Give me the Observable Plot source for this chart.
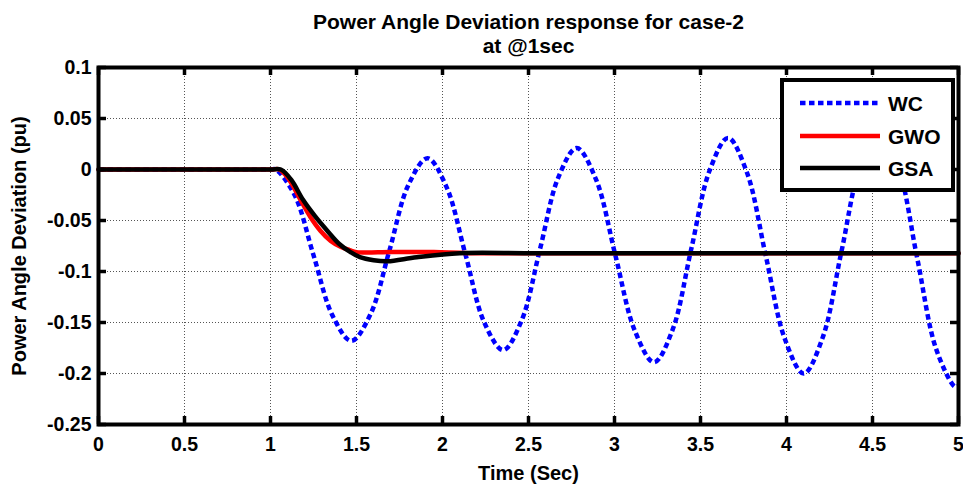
<!DOCTYPE html>
<html>
<head>
<meta charset="utf-8">
<script src="https://cdn.jsdelivr.net/npm/d3@7"></script>
<script src="https://cdn.jsdelivr.net/npm/@observablehq/plot@0.6"></script>
<style>
  html, body { margin: 0; padding: 0; background: #fff; }
  #chart { width: 963px; height: 489px; }
</style>
</head>
<body>
<div id="chart"></div>
<script>
// ---- data ----
const titleLines = ["Power Angle Deviation response for case-2", "at @1sec"];
const xLabel = "Time (Sec)";
const yLabel = "Power Angle Deviation (pu)";
const seriesNames = ["WC", "GWO", "GSA"];
const seriesColors = ["#0000ff", "#ff0000", "#000000"];

const xTicks = [0, 0.5, 1, 1.5, 2, 2.5, 3, 3.5, 4, 4.5, 5];
const yTicks = [0.1, 0.05, 0, -0.05, -0.1, -0.15, -0.2, -0.25];

const wcT = [0, 0.5, 1.0, 1.03, 1.14, 1.25, 1.36, 1.47, 1.581, 1.692, 1.802, 1.913, 2.023, 2.133, 2.243, 2.353, 2.46, 2.567, 2.673, 2.78, 2.893, 3.005, 3.118, 3.23, 3.338, 3.445, 3.553, 3.66, 3.77, 3.88, 3.99, 4.10, 4.21, 4.32, 4.43, 4.54, 4.65, 4.76, 4.87, 4.98, 5.0];
const wcV = [0, 0, 0, 0, -0.025, -0.084, -0.143, -0.168, -0.142, -0.079, -0.015, 0.011, -0.017, -0.083, -0.150, -0.177, -0.148, -0.078, -0.008, 0.021, -0.010, -0.084, -0.158, -0.189, -0.157, -0.079, -0.001, 0.031, -0.003, -0.085, -0.166, -0.200, -0.165, -0.080, 0.005, 0.040, 0.003, -0.087, -0.176, -0.213, -0.212];

const gwoT = [0, 0.5, 1.0, 1.05, 1.1, 1.175, 1.23, 1.29, 1.35, 1.41, 1.46, 1.5, 1.7, 1.95, 2.15, 3.0, 4.0, 5.0];
const gwoV = [0, 0, 0, 0, -0.008, -0.030, -0.046, -0.060, -0.070, -0.076, -0.079, -0.081, -0.081, -0.081, -0.082, -0.082, -0.082, -0.082];

const gsaT = [0, 0.5, 1.0, 1.06, 1.12, 1.19, 1.26, 1.33, 1.40, 1.465, 1.52, 1.60, 1.68, 1.85, 2.1, 2.5, 3.0, 4.0, 5.0];
const gsaV = [0, 0, 0, 0, -0.010, -0.030, -0.046, -0.060, -0.073, -0.081, -0.086, -0.089, -0.090, -0.086, -0.082, -0.082, -0.082, -0.082, -0.082];

const toRows = (T, V) => T.map((t, i) => ({t, v: V[i]}));
const wc = toRows(wcT, wcV);
const gwo = toRows(gwoT, gwoV);
const gsa = toRows(gsaT, gsaV);

// ---- layout ----
const W = 963, H = 489;
const mL = 98, mR = 5, mT = 67, mB = 65;
const plotW = W - mL - mR, plotH = H - mT - mB;
const tickLen = 8;
const font = "'Liberation Sans', Arial, Helvetica, sans-serif";

const svg = Plot.plot({
  width: W, height: H,
  marginLeft: mL, marginRight: mR, marginTop: mT, marginBottom: mB,
  style: {background: "#fff", fontFamily: font, color: "#000"},
  x: {domain: [0, 5], ticks: xTicks},
  y: {domain: [-0.25, 0.1], ticks: yTicks},
  marks: [
    Plot.gridX(xTicks, {stroke: "#555", strokeOpacity: 1, strokeWidth: 1, strokeDasharray: "1,2"}),
    Plot.gridY(yTicks, {stroke: "#555", strokeOpacity: 1, strokeWidth: 1, strokeDasharray: "1,2"}),
    Plot.line(wc, {x: "t", y: "v", stroke: seriesColors[0], strokeWidth: 4.5, strokeDasharray: "5.5,3.5", strokeLinecap: "butt", strokeLinejoin: "miter", curve: "catmull-rom"}),
    Plot.line(gwo, {x: "t", y: "v", stroke: seriesColors[1], strokeWidth: 4.5, curve: "catmull-rom"}),
    Plot.line(gsa, {x: "t", y: "v", stroke: seriesColors[2], strokeWidth: 4.5, curve: "catmull-rom"}),
    // inward ticks on all four sides
    Plot.ruleX(xTicks, {x: d => d, insetTop: plotH - tickLen, stroke: "#000", strokeWidth: 3.5}),
    Plot.ruleX(xTicks, {x: d => d, insetBottom: plotH - tickLen, stroke: "#000", strokeWidth: 3.5}),
    Plot.ruleY(yTicks, {y: d => d, insetRight: plotW - tickLen, stroke: "#000", strokeWidth: 3.5}),
    Plot.ruleY(yTicks, {y: d => d, insetLeft: plotW - tickLen, stroke: "#000", strokeWidth: 3.5}),
    Plot.frame({stroke: "#000", strokeWidth: 4}),
    Plot.axisX(xTicks, {tickSize: 0, tickPadding: 13, fontSize: 19.5, fontWeight: "bold", tickFormat: d => String(d), label: null}),
    Plot.axisY(yTicks, {tickSize: 0, tickPadding: 7, fontSize: 19.5, fontWeight: "bold", tickFormat: d => String(d), label: null}),
    Plot.text([titleLines[0]], {text: d => d, frameAnchor: "top", textAnchor: "middle", dy: -45, lineAnchor: "middle", fontSize: 21, fontWeight: "bold"}),
    Plot.text([titleLines[1]], {text: d => d, frameAnchor: "top", textAnchor: "middle", dy: -21, lineAnchor: "middle", fontSize: 21, fontWeight: "bold"}),
    Plot.text([xLabel], {text: d => d, frameAnchor: "bottom", textAnchor: "middle", dy: 49, lineAnchor: "middle", fontSize: 20, fontWeight: "bold"}),
    Plot.text([yLabel], {text: d => d, frameAnchor: "left", textAnchor: "middle", dx: -79, rotate: -90, lineAnchor: "middle", fontSize: 20, fontWeight: "bold"})
  ]
});

// ---- legend (top right, inside the axes) ----
const g = d3.select(svg).append("g").attr("font-family", font).attr("text-anchor", "start");
const lx = 782, ly = 80, lw = 171, lh = 110;
g.append("rect").attr("x", lx).attr("y", ly).attr("width", lw).attr("height", lh)
  .attr("fill", "#fff").attr("stroke", "#000").attr("stroke-width", 4);
const rowsY = [103, 136, 168];
seriesNames.forEach((name, i) => {
  const line = g.append("line").attr("x1", 800).attr("x2", 880).attr("y1", rowsY[i]).attr("y2", rowsY[i])
    .attr("stroke", seriesColors[i]).attr("stroke-width", 4.5).attr("stroke-linecap", "butt");
  if (i === 0) line.attr("stroke-dasharray", "5.5,3.5");
  g.append("text").attr("x", 888).attr("y", rowsY[i]).attr("dy", "0.36em").attr("text-anchor", "start")
    .attr("font-size", 21).attr("font-weight", "bold").attr("fill", "#000").text(name);
});

document.getElementById("chart").appendChild(svg);
</script>
</body>
</html>
